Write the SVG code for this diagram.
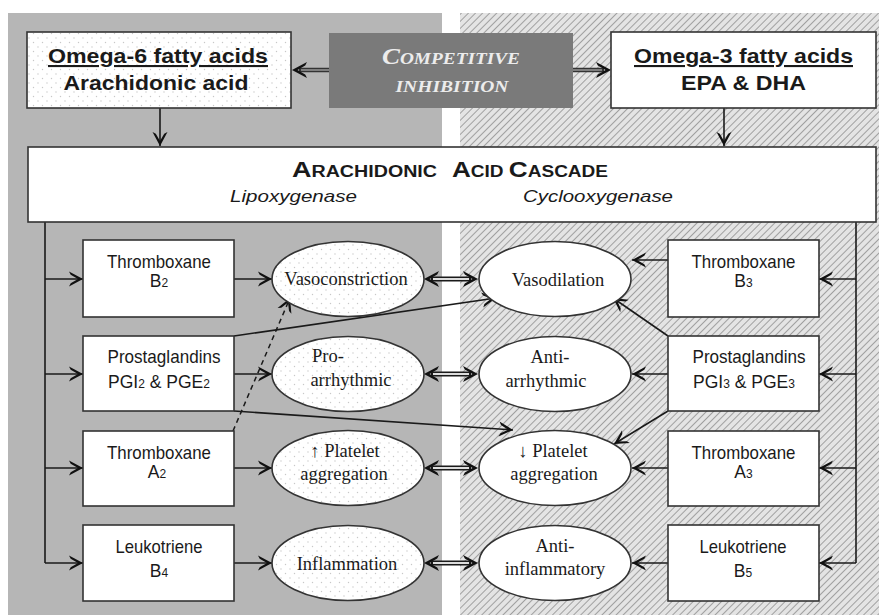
<svg xmlns="http://www.w3.org/2000/svg" width="879" height="615" viewBox="0 0 879 615">
<defs>
<style>
.box{fill:#fff;stroke:#333;stroke-width:1.6}
.dbox{fill:url(#dots);stroke:#333;stroke-width:1.6}
.ell{fill:#fff;stroke:#333;stroke-width:1.6}
.dell{fill:url(#dots);stroke:#333;stroke-width:1.6}
.sans{font-family:"Liberation Sans",Arial,sans-serif;fill:#1a1a1a}
.bt{font-family:"Liberation Sans",Arial,sans-serif;font-size:19px;fill:#1a1a1a;text-anchor:middle}
.bt2{font-family:"Liberation Sans",Arial,sans-serif;font-size:17.5px;fill:#1a1a1a;text-anchor:middle}
.et{font-family:"Liberation Serif","Times New Roman",serif;font-size:18.5px;fill:#1a1a1a;text-anchor:middle}
.sub{font-size:12px}
.conn{stroke:#1a1a1a;stroke-width:1.6;fill:none;marker-end:url(#arr)}
.dash{stroke:#1a1a1a;stroke-width:1.5;fill:none;stroke-dasharray:5 4;marker-end:url(#arr)}
.trunk{stroke:#1a1a1a;stroke-width:1.6;fill:none}
.dbl{stroke:#1a1a1a;stroke-width:5;marker-start:url(#arr2);marker-end:url(#arr2)}
.dblin{stroke:#dcdcdc;stroke-width:1.8}
</style>
<pattern id="hatch" width="5" height="5" patternUnits="userSpaceOnUse" patternTransform="rotate(45)">
<rect width="5" height="5" fill="#e4e4e4"/>
<line x1="0" y1="0" x2="0" y2="5" stroke="#8a8a8a" stroke-width="1.5"/>
</pattern>
<pattern id="dots" width="9" height="9" patternUnits="userSpaceOnUse">
<rect width="9" height="9" fill="#fff"/>
<circle cx="2" cy="2" r="0.7" fill="#c8c8c8"/>
<circle cx="6.5" cy="6.5" r="0.7" fill="#c8c8c8"/>
</pattern>
<marker id="arr" markerUnits="userSpaceOnUse" markerWidth="22" markerHeight="22" viewBox="-18 -11 22 22" refX="0" refY="0" orient="auto">
<path d="M0,0 L-14,-7.5 L-12.3,-4.2 L-5,0 L-12.3,4.2 L-14,7.5 Z" fill="#111"/>
</marker>
<marker id="arr2" markerUnits="userSpaceOnUse" markerWidth="26" markerHeight="22" viewBox="-14 -11 26 22" refX="0" refY="0" orient="auto-start-reverse">
<path d="M7,0 L-8,-8 L-6.2,-4.4 L1.5,0 L-6.2,4.4 L-8,8 Z" fill="#111"/>
</marker>
</defs>

<g id="background">
<rect x="0" y="0" width="879" height="615" fill="#fff"/>
<rect x="8" y="13" width="434" height="602" fill="#b6b6b6"/>
<rect x="460" y="13" width="419" height="602" fill="url(#hatch)"/>
</g>

<g id="connectors">
<line class="conn" x1="160" y1="108" x2="160" y2="146"/>
<line class="conn" x1="724" y1="108" x2="724" y2="146"/>
<polyline class="trunk" points="45,222 45,563"/>
<polyline class="trunk" points="856,222 856,563"/>
<line class="conn" x1="45" y1="279" x2="83" y2="279"/>
<line class="conn" x1="45" y1="374" x2="83" y2="374"/>
<line class="conn" x1="45" y1="468" x2="83" y2="468"/>
<line class="conn" x1="45" y1="563" x2="83" y2="563"/>
<line class="conn" x1="234" y1="279" x2="272" y2="279"/>
<line class="conn" x1="234" y1="374" x2="272" y2="374"/>
<line class="conn" x1="234" y1="468" x2="272" y2="468"/>
<line class="conn" x1="234" y1="563" x2="272" y2="563"/>
<line class="conn" x1="856" y1="279" x2="819" y2="279"/>
<line class="conn" x1="856" y1="374" x2="819" y2="374"/>
<line class="conn" x1="856" y1="468" x2="819" y2="468"/>
<line class="conn" x1="856" y1="563" x2="819" y2="563"/>
<line class="conn" x1="668" y1="260" x2="632" y2="260"/>
<line class="conn" x1="668" y1="374" x2="632" y2="374"/>
<line class="conn" x1="668" y1="468" x2="632" y2="468"/>
<line class="conn" x1="668" y1="563" x2="632" y2="563"/>
<line class="conn" x1="234" y1="336" x2="496" y2="298"/>
<line class="conn" x1="234" y1="411" x2="513" y2="430"/>
<line class="conn" x1="668" y1="336" x2="613" y2="298"/>
<line class="conn" x1="668" y1="411" x2="614" y2="444"/>
<line class="dash" x1="233" y1="431" x2="290" y2="298"/>
<line class="dbl" x1="431" y1="279" x2="471" y2="279"/>
<line class="dblin" x1="433" y1="279" x2="469" y2="279"/>
<line class="dbl" x1="431" y1="374" x2="471" y2="374"/>
<line class="dblin" x1="433" y1="374" x2="469" y2="374"/>
<line class="dbl" x1="431" y1="468" x2="471" y2="468"/>
<line class="dblin" x1="433" y1="468" x2="469" y2="468"/>
<line class="dbl" x1="431" y1="563" x2="471" y2="563"/>
<line class="dblin" x1="433" y1="563" x2="469" y2="563"/>
<line x1="329" y1="70" x2="299" y2="70" stroke="#333" stroke-width="4.5" marker-end="url(#arr2)"/>
<line x1="329" y1="70" x2="301" y2="70" stroke="#999" stroke-width="1.5"/>
<line x1="573" y1="70" x2="604" y2="70" stroke="#333" stroke-width="4.5" marker-end="url(#arr2)"/>
<line x1="573" y1="70" x2="602" y2="70" stroke="#999" stroke-width="1.5"/>
</g>

<g id="omega6">
<rect class="dbox" x="27" y="32" width="264" height="76"/>
<text class="sans" x="158" y="63" font-size="21" font-weight="bold" text-anchor="middle" text-decoration="underline" textLength="220" lengthAdjust="spacingAndGlyphs">Omega-6 fatty acids</text>
<text class="sans" x="156" y="90" font-size="21" font-weight="bold" text-anchor="middle" textLength="185" lengthAdjust="spacingAndGlyphs">Arachidonic acid</text>
</g>

<g id="competitive">
<rect x="329" y="33" width="244" height="75" fill="#7a7a7a"/>
<text x="451" y="64" font-family="Liberation Serif,'Times New Roman',serif" font-style="italic" font-weight="bold" fill="#ececec" text-anchor="middle" textLength="138" lengthAdjust="spacingAndGlyphs"><tspan font-size="23">C</tspan><tspan font-size="16.5">OMPETITIVE</tspan></text>
<text x="452" y="92" font-family="Liberation Serif,'Times New Roman',serif" font-style="italic" font-weight="bold" fill="#ececec" font-size="16.5" text-anchor="middle" textLength="113" lengthAdjust="spacingAndGlyphs">INHIBITION</text>
</g>

<g id="omega3">
<rect class="box" x="611" y="32" width="265" height="76"/>
<text class="sans" x="743.5" y="63" font-size="21" font-weight="bold" text-anchor="middle" text-decoration="underline" textLength="219" lengthAdjust="spacingAndGlyphs">Omega-3 fatty acids</text>
<text class="sans" x="743.5" y="90" font-size="21" font-weight="bold" text-anchor="middle" textLength="125" lengthAdjust="spacingAndGlyphs">EPA &amp; DHA</text>
</g>

<g id="cascade">
<rect class="box" x="28" y="147" width="848" height="75"/>
<text class="sans" x="292" y="177" font-size="22" font-weight="bold" textLength="145" lengthAdjust="spacingAndGlyphs">A<tspan font-size="16">RACHIDONIC</tspan></text>
<text class="sans" x="452" y="177" font-size="22" font-weight="bold" textLength="156" lengthAdjust="spacingAndGlyphs">A<tspan font-size="16">CID </tspan>C<tspan font-size="16">ASCADE</tspan></text>
<text class="sans" x="230" y="202" font-size="17" font-style="italic" textLength="127" lengthAdjust="spacingAndGlyphs">Lipoxygenase</text>
<text class="sans" x="523" y="202" font-size="17" font-style="italic" textLength="150" lengthAdjust="spacingAndGlyphs">Cyclooxygenase</text>
</g>

<g id="txb2">
<rect class="box" x="83" y="240" width="151" height="77"/>
<text class="bt" x="159" y="268" textLength="104" lengthAdjust="spacingAndGlyphs">Thromboxane</text>
<text class="bt2" x="159" y="287">B<tspan class="sub">2</tspan></text>
</g>
<g id="pg2">
<rect class="box" x="83" y="336" width="151" height="75"/>
<text class="bt" x="164" y="363" textLength="113" lengthAdjust="spacingAndGlyphs">Prostaglandins</text>
<text class="bt2" x="159" y="388">PGI<tspan class="sub">2</tspan> &amp; PGE<tspan class="sub">2</tspan></text>
</g>
<g id="txa2">
<rect class="box" x="83" y="431" width="151" height="75"/>
<text class="bt" x="159" y="459" textLength="104" lengthAdjust="spacingAndGlyphs">Thromboxane</text>
<text class="bt2" x="157" y="478">A<tspan class="sub">2</tspan></text>
</g>
<g id="ltb4">
<rect class="box" x="83" y="525" width="151" height="76"/>
<text class="bt" x="159" y="553" textLength="87" lengthAdjust="spacingAndGlyphs">Leukotriene</text>
<text class="bt2" x="159" y="577">B<tspan class="sub">4</tspan></text>
</g>

<g id="txb3">
<rect class="box" x="668" y="240" width="151" height="77"/>
<text class="bt" x="743.5" y="268" textLength="104" lengthAdjust="spacingAndGlyphs">Thromboxane</text>
<text class="bt2" x="743.5" y="287">B<tspan class="sub">3</tspan></text>
</g>
<g id="pg3">
<rect class="box" x="668" y="336" width="151" height="75"/>
<text class="bt" x="749" y="363" textLength="113" lengthAdjust="spacingAndGlyphs">Prostaglandins</text>
<text class="bt2" x="744" y="388">PGI<tspan class="sub">3</tspan> &amp; PGE<tspan class="sub">3</tspan></text>
</g>
<g id="txa3">
<rect class="box" x="668" y="431" width="151" height="75"/>
<text class="bt" x="743.5" y="459" textLength="104" lengthAdjust="spacingAndGlyphs">Thromboxane</text>
<text class="bt2" x="743.5" y="478">A<tspan class="sub">3</tspan></text>
</g>
<g id="ltb5">
<rect class="box" x="668" y="525" width="151" height="76"/>
<text class="bt" x="743" y="553" textLength="87" lengthAdjust="spacingAndGlyphs">Leukotriene</text>
<text class="bt2" x="743" y="577">B<tspan class="sub">5</tspan></text>
</g>

<g id="vasoconstriction">
<ellipse class="dell" cx="348" cy="279" rx="76" ry="37.5"/>
<text class="et" x="346" y="285">Vasoconstriction</text>
</g>
<g id="proarrhythmic">
<ellipse class="dell" cx="348" cy="374" rx="76" ry="37.5"/>
<text class="et" x="312" y="362" style="text-anchor:start">Pro-</text>
<text class="et" x="351" y="386">arrhythmic</text>
</g>
<g id="platelet-up">
<ellipse class="dell" cx="348" cy="468" rx="76" ry="37.5"/>
<text class="et" x="345" y="457">↑ Platelet</text>
<text class="et" x="344" y="480">aggregation</text>
</g>
<g id="inflammation">
<ellipse class="dell" cx="348" cy="563" rx="76" ry="37.5"/>
<text class="et" x="347" y="570">Inflammation</text>
</g>

<g id="vasodilation">
<ellipse class="ell" cx="555" cy="279" rx="76" ry="37.5"/>
<text class="et" x="558" y="286">Vasodilation</text>
</g>
<g id="antiarrhythmic">
<ellipse class="ell" cx="555" cy="374" rx="76" ry="37.5"/>
<text class="et" x="550" y="363">Anti-</text>
<text class="et" x="546" y="387">arrhythmic</text>
</g>
<g id="platelet-down">
<ellipse class="ell" cx="555" cy="468" rx="76" ry="37.5"/>
<text class="et" x="553" y="457">↓ Platelet</text>
<text class="et" x="554" y="480">aggregation</text>
</g>
<g id="antiinflammatory">
<ellipse class="ell" cx="555" cy="563" rx="76" ry="37.5"/>
<text class="et" x="555" y="552">Anti-</text>
<text class="et" x="555" y="575">inflammatory</text>
</g>
</svg>
